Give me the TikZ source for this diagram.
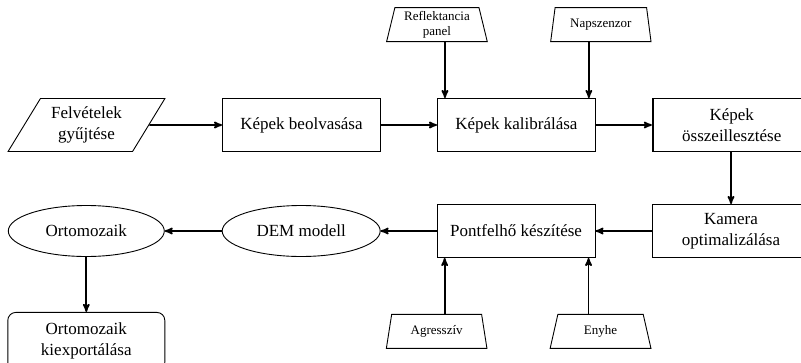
\documentclass[tikz,border=0pt]{standalone}
\usepackage{fontspec}
\setmainfont{Liberation Serif}
\usetikzlibrary{arrows,shapes.geometric,positioning}

\begin{document}
\begin{tikzpicture}[>=stealth',x=1pt,y=-1pt,node distance=56pt]
\tikzstyle{box}=[draw,line width=0.9pt,minimum width=158pt,minimum height=53pt,align=center,font=\fontsize{17}{21}\selectfont,inner sep=2pt]
\tikzstyle{adat}=[box,trapezium,trapezium left angle=57,trapezium right angle=123,trapezium stretches=true,minimum width=157pt]
\tikzstyle{kulso}=[draw,line width=0.9pt,trapezium,trapezium angle=77,trapezium stretches=true,minimum width=101pt,minimum height=34pt,align=center,font=\fontsize{13}{15}\selectfont,inner sep=1pt]
\tikzstyle{kimenet}=[box,ellipse,minimum height=51pt]
\tikzstyle{nyil}=[->,line width=1.7pt]

\useasboundingbox (0,0) rectangle (801,362);
\clip (0,0) rectangle (801,362);

\node[adat]		(felv) at (86.5,125) {Felvételek\\gyűjtése};
\node[box]		(beolv) at (301.5,125) {Képek beolvasása};
\node[box]		(kalib) [right=of beolv] {Képek kalibrálása};
\node[box,line width=1.8pt]	(osszeill) [right=of kalib] {Képek\\összeillesztése};
\node[box]		(kamera) at (731,231) {Kamera\\optimalizálása};
\node[box]		(pont) [left=of kamera] {Pontfelhő készítése};
\node[kimenet]	(dem) [left=of pont] {DEM modell};
\node[kimenet,minimum width=156pt]	(orto) [left=57pt of dem] {Ortomozaik};
\node[box,rounded corners=8pt,minimum width=157pt,minimum height=58pt]	(kiexp) [below=55pt of orto] {Ortomozaik\\kiexportálása};

\node[kulso]	(refl) [above=56pt of kalib.north west] {Reflektancia\\panel};
\node[kulso]	(napsz) [above=56pt of kalib.north east,xshift=5pt] {Napszenzor};
\node[kulso]	(agr) [below=56pt of pont.south west] {Agresszív};
\node[kulso]	(enyhe) [below=56pt of pont.south east,xshift=5pt] {Enyhe};

\coordinate (be1) at ([xshift=8pt]kalib.north west);
\coordinate (be2) at ([xshift=-7pt]kalib.north east);
\coordinate (be3) at ([xshift=8pt]pont.south west);
\coordinate (be4) at ([xshift=-7pt]pont.south east);

\draw[nyil] (felv.east) -- (beolv.west);
\draw[nyil] (beolv) -- (kalib);
\draw[nyil] (kalib) -- (osszeill);
\draw[nyil] (osszeill.south -| kamera) -- (kamera);
\draw[nyil] (kamera) -- (pont);
\draw[nyil] (pont) -- (dem);
\draw[nyil] (dem) -- (orto);
\draw[nyil] (orto) -- (kiexp);
\draw[nyil] (refl.south -| be1) -- (be1);
\draw[nyil] (napsz.south -| be2) -- (be2);
\draw[nyil] (agr.north -| be3) -- (be3);
\draw[nyil] (enyhe.north -| be4) -- (be4);
\end{tikzpicture}
\end{document}
